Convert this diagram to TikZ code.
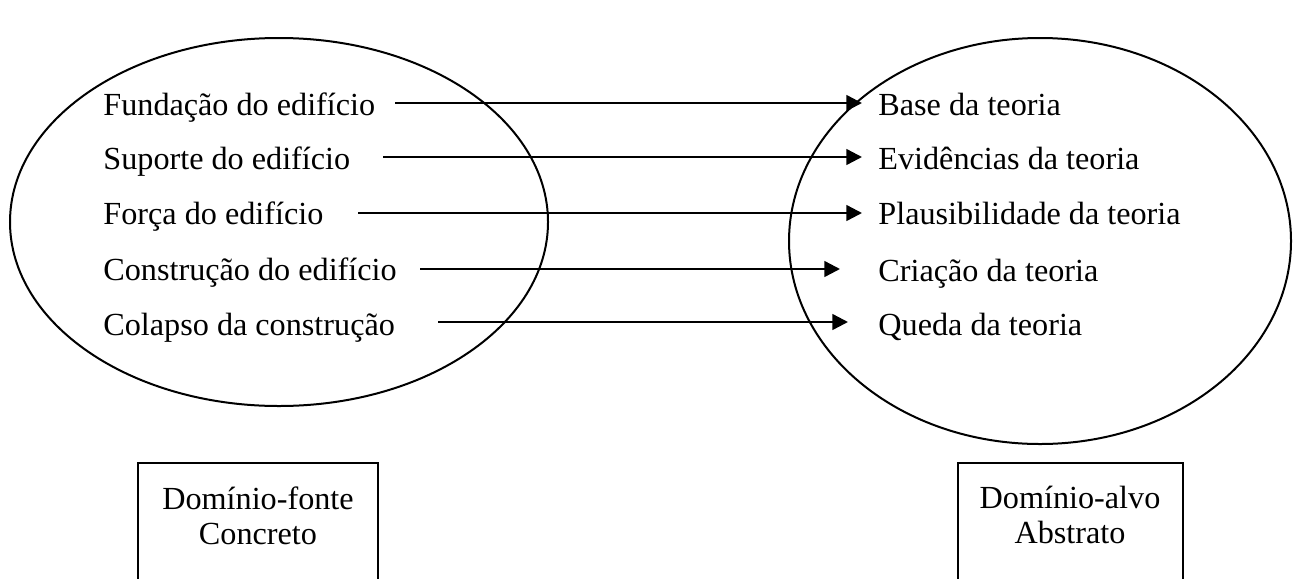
\documentclass[tikz,border=0pt]{standalone}
\usepackage{fontspec}
\setmainfont{Liberation Serif}
\usetikzlibrary{arrows.meta}
\begin{document}
\begin{tikzpicture}[x=0.5pt,y=-0.5pt,
  lbl/.style={anchor=base west, inner sep=0pt, font=\fontsize{16.1}{18}\selectfont},
  map/.style={line width=1.2pt, -{Triangle[length=7.8pt,width=7.8pt]}},
  dom/.style={line width=1pt},
  frame/.style={line width=1pt},
  boxtxt/.style={align=center, anchor=north, inner sep=0pt, font=\fontsize{16.1}{17.5}\selectfont}]
\useasboundingbox (0,0) rectangle (1293,578);
\clip (0,0) rectangle (1293,578);

% source and target domains
\draw[dom] (279,222) ellipse [x radius=269, y radius=184];
\draw[dom] (1040,241) ellipse [x radius=251, y radius=203];

% concrete terms
\node[lbl] (f1) at (103,115) {Fundação do edifício};
\node[lbl] (f2) at (103,169) {Suporte do edifício};
\node[lbl] (f3) at (103,224) {Força do edifício};
\node[lbl] (f4) at (103,280) {Construção do edifício};
\node[lbl] (f5) at (103,335) {Colapso da construção};

% abstract terms
\node[lbl] (a1) at (878,115) {Base da teoria};
\node[lbl] (a2) at (878,169) {Evidências da teoria};
\node[lbl] (a3) at (878,224) {Plausibilidade da teoria};
\node[lbl] (a4) at (878,281) {Criação da teoria};
\node[lbl] (a5) at (878,335) {Queda da teoria};

% mapping ends
\coordinate (s1) at (395,103); \coordinate (t1) at (862,103);
\coordinate (s2) at (383,157); \coordinate (t2) at (862,157);
\coordinate (s3) at (358,213); \coordinate (t3) at (862,213);
\coordinate (s4) at (420,269); \coordinate (t4) at (840,269);
\coordinate (s5) at (438,322); \coordinate (t5) at (848,322);
\foreach \i in {1,...,5} \draw[map] (s\i) -- (t\i);

% domain captions
\draw[frame] (138,463) rectangle (378,640);
\draw[frame] (958,463) rectangle (1183,640);
\node[boxtxt] (src) at (258,486) {Domínio-fonte\\Concreto};
\node[boxtxt] (tgt) at (1070,486) {Domínio-alvo\\Abstrato};
\end{tikzpicture}
\end{document}
